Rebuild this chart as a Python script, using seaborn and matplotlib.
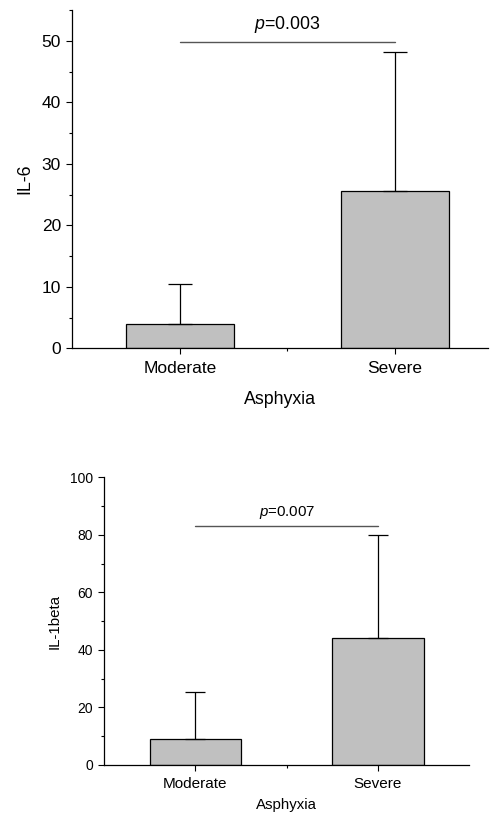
import numpy as np
import pandas as pd
import matplotlib
matplotlib.use("Agg")
import matplotlib.pyplot as plt
import seaborn as sns
from matplotlib.ticker import MultipleLocator, FixedLocator

# -----------------------------
# Data
# -----------------------------
groups = ["Moderate", "Severe"]

il6_mean = [4.0, 25.5]
il6_sd = [6.5, 22.7]
il6_p = "0.003"

il1b_mean = [9.1, 44.0]
il1b_sd = [16.2, 36.0]
il1b_p = "0.007"

sns.set_style("ticks")
plt.rcParams["font.family"] = ["Liberation Sans", "DejaVu Sans"]
plt.rcParams["mathtext.fontset"] = "custom"
plt.rcParams["mathtext.it"] = "Liberation Sans:italic"
plt.rcParams["mathtext.rm"] = "Liberation Sans"
plt.rcParams["text.color"] = "black"
plt.rcParams["axes.labelcolor"] = "black"
plt.rcParams["xtick.color"] = "black"
plt.rcParams["ytick.color"] = "black"

fig = plt.figure(figsize=(4.97, 8.14), dpi=100)
ax1 = fig.add_axes([0.1449, 0.5721, 0.8370, 0.4156])
ax2 = fig.add_axes([0.2093, 0.0602, 0.7350, 0.3534])


def draw_panel(ax, means, sds, ylabel, pval, ymax, ystep, xlim, bracket_y, text_y,
               fs_tick, fs_xtick, fs_label, capsize):
    df = pd.DataFrame({"group": groups, "value": means})
    sns.barplot(data=df, x="group", y="value", color="#c0c0c0", saturation=1,
                edgecolor="black", linewidth=0.9, width=0.5, errorbar=None, ax=ax)
    x = np.arange(len(groups))
    ax.errorbar(x, means, yerr=[np.zeros(len(sds)), sds], fmt="none",
                ecolor="black", elinewidth=0.9, capsize=capsize, capthick=0.9)

    # significance bracket
    ax.plot([x[0], x[1]], [bracket_y, bracket_y], color="#555555", lw=1.0)
    ax.text((x[0] + x[1]) / 2, text_y, r"$\it{p}$=" + pval, ha="center", va="bottom",
            fontsize=fs_label)

    ax.set_ylim(0, ymax)
    ax.set_xlim(*xlim)
    ax.yaxis.set_major_locator(MultipleLocator(ystep))
    ax.yaxis.set_minor_locator(MultipleLocator(ystep / 2))
    ax.xaxis.set_minor_locator(FixedLocator([0.5]))
    ax.set_ylabel(ylabel, fontsize=fs_label)
    ax.set_xlabel("Asphyxia", fontsize=fs_label)
    ax.tick_params(axis="y", which="major", labelsize=fs_tick, length=4.5, width=0.8, direction="out")
    ax.tick_params(axis="x", which="major", labelsize=fs_xtick, length=4, width=0.8, direction="out",
                   pad=5)
    ax.tick_params(which="minor", length=2.5, width=0.8, direction="out")
    sns.despine(ax=ax)
    for s in ["left", "bottom"]:
        ax.spines[s].set_linewidth(0.9)
        ax.spines[s].set_color("black")


draw_panel(ax1, il6_mean, il6_sd, "IL-6", il6_p, 55, 10, (-0.502, 1.433),
           49.8, 50.9, 12.5, 12.5, 12.8, 8.5)
draw_panel(ax2, il1b_mean, il1b_sd, "IL-1beta", il1b_p, 100, 20, (-0.5, 1.5),
           83.2, 84.8, 10, 11, 10.8, 7)

ax1.xaxis.labelpad = 11
ax1.yaxis.labelpad = 6
ax2.xaxis.labelpad = 5
ax2.yaxis.labelpad = 6

fig.savefig("out.png", dpi=100)
